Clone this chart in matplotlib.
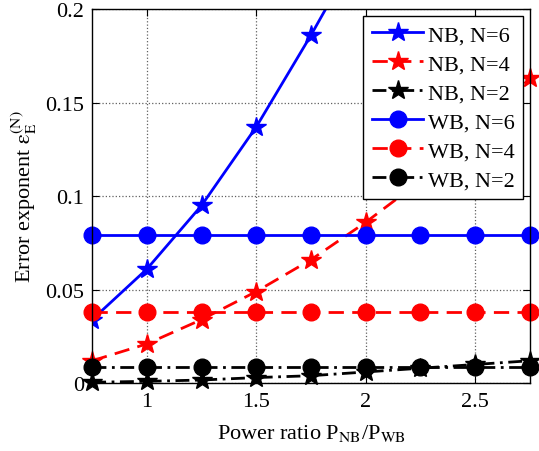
import matplotlib
matplotlib.use("Agg")
import matplotlib.pyplot as plt

plt.rcParams['font.family'] = ['Liberation Serif', 'DejaVu Serif']
plt.rcParams['mathtext.fontset'] = 'stix'

power_ratio = [0.75, 1.0, 1.25, 1.5, 1.75, 2.0, 2.25, 2.5, 2.75]

nb_n6 = [0.034, 0.061, 0.095, 0.137, 0.186, 0.238, 0.292, 0.350, 0.410]
nb_n4 = [0.012, 0.021, 0.034, 0.049, 0.066, 0.086, 0.108, 0.133, 0.163]
nb_n2 = [0.0005, 0.001, 0.0017, 0.003, 0.004, 0.006, 0.008, 0.010, 0.012]
wb_n6 = [0.079] * 9
wb_n4 = [0.038] * 9
wb_n2 = [0.0085] * 9

xticks = [1, 1.5, 2, 2.5]
xtick_labels = ['1', '1.5', '2', '2.5']
yticks = [0, 0.05, 0.1, 0.15, 0.2]
ytick_labels = ['0', '0.05', '0.1', '0.15', '0.2']

fig = plt.figure(figsize=(5.39, 4.52), dpi=100)
ax = fig.add_axes([0.171, 0.150, 0.812, 0.828])

lw = 2.0
dash = (5.5, 3.0)
dashdot = (5.0, 2.0, 1.0, 2.0)
star_ms = 15
circ_ms = 12

series = [
    (nb_n6, '#0000ff', '-', None, '*', star_ms, 'NB, N=6', True),
    (nb_n4, '#ff0000', '--', dash, '*', star_ms, 'NB, N=4', False),
    (nb_n2, 'black', '-.', dashdot, '*', star_ms, 'NB, N=2', False),
    (wb_n6, '#0000ff', '-', None, 'o', circ_ms, 'WB, N=6', False),
    (wb_n4, '#ff0000', '--', dash, 'o', circ_ms, 'WB, N=4', False),
    (wb_n2, 'black', '-.', dashdot, 'o', circ_ms, 'WB, N=2', False),
]
for y, c, ls, dashes, mk, ms, lab, clip in series:
    line, = ax.plot(power_ratio, y, color=c, ls=ls, lw=lw, marker=mk, ms=ms,
                    label=lab, clip_on=clip, zorder=3)
    if dashes is not None:
        line.set_dashes(dashes)

ax.set_xlim(0.75, 2.75)
ax.set_ylim(0, 0.2)
ax.set_xticks(xticks)
ax.set_xticklabels(xtick_labels)
ax.set_yticks(yticks)
ax.set_yticklabels(ytick_labels)
ax.tick_params(direction='in', labelsize=16, top=True, right=True, length=5, pad=6)
ax.grid(True, ls=':', color='#606060', lw=0.9)
for s in ax.spines.values():
    s.set_linewidth(1.0)
    s.set_zorder(4)

ax.set_xlabel(r'Power ratio P$_{\mathrm{NB}}$/P$_{\mathrm{WB}}$', fontsize=16, labelpad=8)
ax.set_ylabel(r'Error exponent $\mathrm{ε}_{\mathrm{E}}^{(\mathrm{N})}$', fontsize=16, labelpad=4)

leg = ax.legend(loc='upper right', fontsize=16, fancybox=False, framealpha=1,
                edgecolor='black', handlelength=2.3, borderpad=0.4,
                labelspacing=0.38, handletextpad=0.2, borderaxespad=0.3)
leg.get_frame().set_linewidth(1.0)
leg.set_zorder(5)

fig.savefig('out.png', dpi=100)
